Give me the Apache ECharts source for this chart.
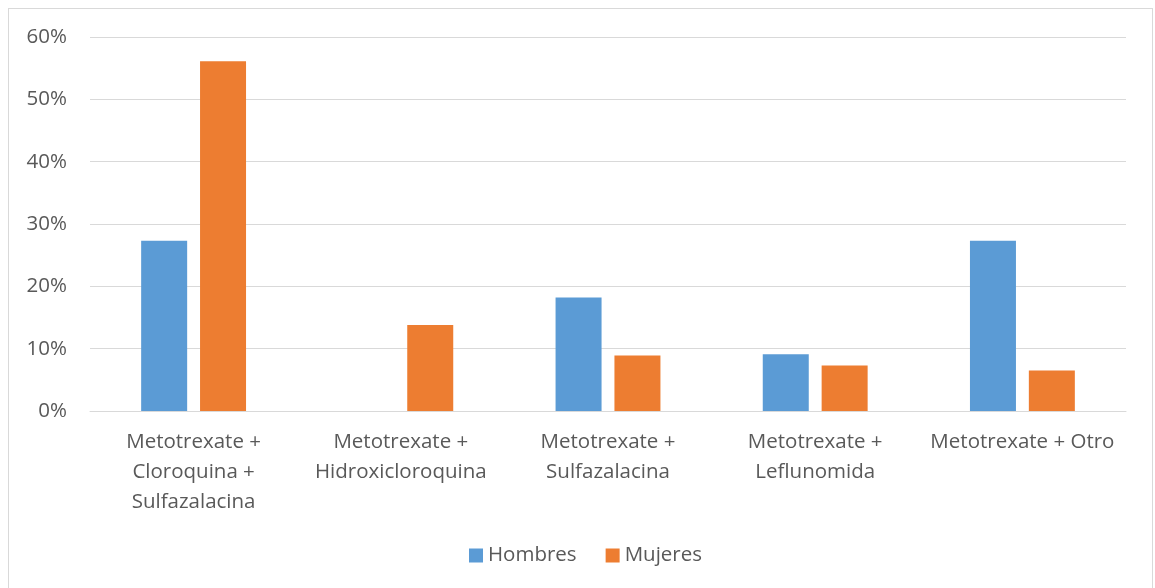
<!DOCTYPE html>
<html>
<head>
<meta charset="utf-8">
<script src="https://cdn.jsdelivr.net/npm/echarts@6/dist/echarts.min.js"></script>
<style>
  html, body { margin: 0; padding: 0; background: #fff; }
  #frame { position: absolute; left: 8px; top: 8px; width: 1145px; height: 600px; border: 1px solid #d9d9d9; box-sizing: border-box; }
  #chart { position: absolute; left: 0; top: 0; width: 1155px; height: 588px; }
</style>
</head>
<body>
<div id="frame"></div>
<div id="chart"></div>
<script>
// Combinaciones de tratamiento con metotrexate
const categories = [
  'Metotrexate +\nCloroquina +\nSulfazalacina',
  'Metotrexate +\nHidroxicloroquina',
  'Metotrexate +\nSulfazalacina',
  'Metotrexate +\nLeflunomida',
  'Metotrexate + Otro'
];
// Porcentaje por sexo
const hombres = [27.3, 0, 18.2, 9.1, 27.3];
const mujeres = [56.1, 13.8, 8.9, 7.3, 6.5];
const yTicks = [0, 10, 20, 30, 40, 50, 60];

const font = '"Open Sans", Carlito, sans-serif';
const textColor = '#595959';
const fontSize = 20.5;

const chart = echarts.init(document.getElementById('chart'));
chart.setOption({
  animation: false,
  textStyle: { fontFamily: font },
  grid: { left: 90, right: 29, top: 37, bottom: 177 },
  legend: {
    top: 540,
    left: 464,
    itemWidth: 14,
    itemHeight: 14,
    itemGap: 29,
    icon: 'rect',
    textStyle: { fontSize: fontSize, color: textColor, fontFamily: font },
    data: ['Hombres', 'Mujeres']
  },
  xAxis: {
    type: 'category',
    data: categories,
    axisLine: { lineStyle: { color: '#d9d9d9', width: 1 } },
    axisTick: { show: false },
    axisLabel: {
      interval: 0,
      margin: 16,
      fontSize: fontSize,
      lineHeight: 30,
      color: textColor,
      fontFamily: font
    }
  },
  yAxis: {
    type: 'value',
    min: yTicks[0],
    max: yTicks[yTicks.length - 1],
    interval: 10,
    axisLine: { show: false },
    axisTick: { show: false },
    splitLine: { lineStyle: { color: '#d9d9d9', width: 1 } },
    axisLabel: {
      margin: 23,
      fontSize: fontSize,
      color: textColor,
      fontFamily: font,
      formatter: v => v + '%'
    }
  },
  series: [
    {
      name: 'Hombres',
      type: 'bar',
      data: hombres,
      barWidth: 46,
      barGap: '28%',
      itemStyle: { color: '#5B9BD5' }
    },
    {
      name: 'Mujeres',
      type: 'bar',
      data: mujeres,
      barWidth: 46,
      itemStyle: { color: '#ED7D31' }
    }
  ]
});
</script>
</body>
</html>
